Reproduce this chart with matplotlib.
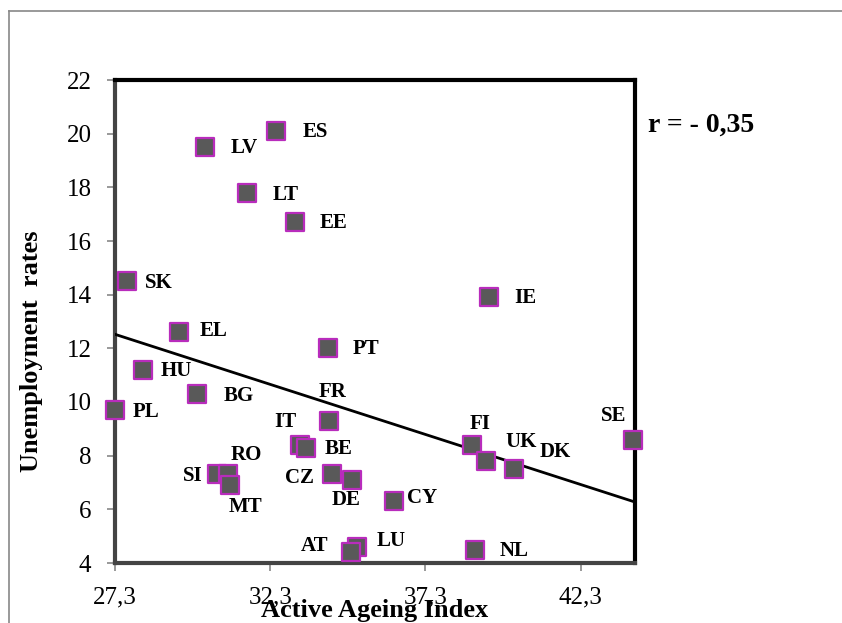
import matplotlib
matplotlib.use('Agg')
import matplotlib.pyplot as plt
import numpy as np
from matplotlib.lines import Line2D

# Datos: indice de envejecimiento activo vs tasa de desempleo
countries = ['ES', 'LV', 'LT', 'EE', 'SK', 'EL', 'PT', 'HU', 'BG', 'PL', 'FR', 'IT', 'BE',
             'SI', 'RO', 'MT', 'CZ', 'DE', 'CY', 'LU', 'AT', 'IE', 'FI', 'UK', 'DK', 'NL', 'SE']
active_ageing = [32.5, 30.2, 31.55, 33.1, 27.7, 29.35, 34.15, 28.2, 29.95, 27.3, 34.2, 33.25, 33.45,
                 30.6, 30.95, 31.0, 34.3, 34.95, 36.3, 35.1, 34.9, 39.35, 38.8, 39.25, 40.15, 38.9, 44.0]
unemployment = [20.1, 19.5, 17.8, 16.7, 14.5, 12.6, 12.0, 11.2, 10.3, 9.7, 9.3, 8.4, 8.3,
                7.3, 7.3, 6.9, 7.3, 7.1, 6.3, 4.6, 4.4, 13.9, 8.4, 7.8, 7.5, 4.5, 8.6]
x_ticks = [27.3, 32.3, 37.3, 42.3]
x_ticklabels = ['27,3', '32,3', '37,3', '42,3']
y_ticks = [4, 6, 8, 10, 12, 14, 16, 18, 20, 22]

# Posicion de las etiquetas (pixeles, dy hacia abajo) y alineacion
label_pos = {
    'ES': (26, 1, 'left'), 'LV': (26, 1, 'left'), 'LT': (26, 2, 'left'), 'EE': (25, 1, 'left'),
    'SK': (18, 2, 'left'), 'EL': (21, -1, 'left'), 'PT': (25, 1, 'left'), 'HU': (18, 1, 'left'),
    'BG': (26, 2, 'left'), 'PL': (18, 2, 'left'), 'FR': (3, -29, 'center'), 'IT': (-3, -23, 'right'),
    'BE': (19, 1, 'left'), 'SI': (-15, 2, 'right'), 'RO': (18, -19, 'center'), 'MT': (16, 22, 'center'),
    'CZ': (-18, 4, 'right'), 'DE': (-6, 20, 'center'), 'CY': (13, -3, 'left'), 'LU': (19, -6, 'left'),
    'AT': (-23, -6, 'right'), 'IE': (25, 1, 'left'), 'FI': (8, -21, 'center'), 'UK': (19, -19, 'left'),
    'DK': (26, -17, 'left'), 'NL': (25, 1, 'left'), 'SE': (-20, -24, 'center'),
}

serif = ['Liberation Serif', 'DejaVu Serif']
plt.rcParams['font.family'] = serif

fig = plt.figure(figsize=(8.42, 6.23), dpi=100)
ax = fig.add_axes([115/842, 60/623, 520/842, 483/623])

ax.scatter(active_ageing, unemployment, marker='s', s=13**2, facecolor='#595959',
           edgecolor='#B82CBC', linewidths=1.6, zorder=5, clip_on=False)

# Linea de tendencia (regresion lineal)
slope, intercept = np.polyfit(active_ageing, unemployment, 1)
xl = np.array([27.3, 44.05])
ax.plot(xl, slope * xl + intercept, color='black', lw=2, zorder=4)

for name, xv, yv in zip(countries, active_ageing, unemployment):
    dx, dy, ha = label_pos[name]
    ax.annotate(name, (xv, yv), xytext=(dx, -dy), textcoords='offset pixels',
                ha=ha, va='center', fontsize=15, fontweight='bold', zorder=6)

ax.set_xlim(27.3, 44.05)
ax.set_ylim(4, 22)
ax.set_xticks(x_ticks)
ax.set_xticklabels(x_ticklabels)
ax.set_yticks(y_ticks)
ax.tick_params(axis='both', labelsize=18, length=6, width=1.2, color='#888888', pad=11)

for side in ['top', 'right']:
    ax.spines[side].set_color('black')
    ax.spines[side].set_linewidth(3)
for side in ['left', 'bottom']:
    ax.spines[side].set_color('#444444')
    ax.spines[side].set_linewidth(3)

fig.text(32/842, 1 - 351/623, 'Unemployment  rates', rotation=90, ha='center', va='center',
         fontsize=19, fontweight='bold')
fig.text(375/842, 1 - 610/623, 'Active Ageing Index', ha='center', va='center',
         fontsize=19, fontweight='bold')
fig.text(648/842, 1 - 125/623, 'r = - 0,35', ha='left', va='center', fontsize=20, fontweight='bold')

# Marco exterior gris
fig.add_artist(Line2D([9/842, 9/842], [0, 1 - 11/623], transform=fig.transFigure, color='#888888', lw=1.2))
fig.add_artist(Line2D([9/842, 1], [1 - 11/623, 1 - 11/623], transform=fig.transFigure, color='#888888', lw=1.2))

fig.savefig('out.png', dpi=100)
